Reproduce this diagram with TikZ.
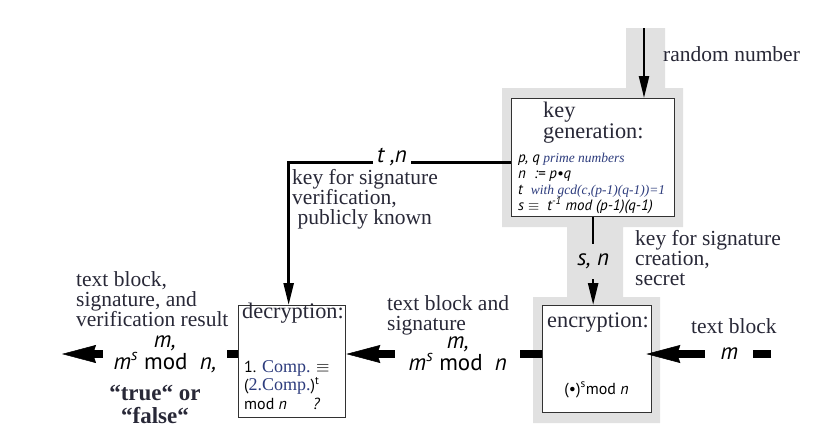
\documentclass[tikz,border=0pt]{standalone}
\usepackage{fontspec}
\setmainfont{Liberation Serif}
\setsansfont{PT Sans}
\usetikzlibrary{arrows.meta}

\definecolor{holder}{RGB}{225,225,225}
\definecolor{frame}{RGB}{50,50,50}
\definecolor{ink}{RGB}{40,40,55}
\definecolor{navy}{RGB}{45,60,125}

\begin{document}
\begin{tikzpicture}[x=1pt,y=-1pt,
    box/.style={draw=frame, line width=1.3pt, fill=white, inner sep=0pt, anchor=north west},
    thin link/.style={line width=2.4pt, -{Triangle[length=22pt,width=10pt]}},
    fat link/.style={line width=8pt, -{Stealth[length=34pt,width=18pt,inset=3pt,line width=0.5pt]}},
    label/.style={font=\fontsize{21.5}{20}\selectfont, text=ink, align=left, inner sep=0pt, anchor=base west},
    title/.style={font=\fontsize{22.3}{18}\selectfont, text=ink, align=left, inner sep=0pt, anchor=base west},
    sym/.style={font=\sffamily\itshape\fontsize{23}{22}\selectfont, align=center, inner sep=0pt},
    small/.style={font=\sffamily\fontsize{16}{18.5}\selectfont, align=left, inner sep=0pt}]
    \useasboundingbox (0,0) rectangle (829,447);

    % grey background of the key holder
    \fill[holder] (626,28) -- (665,28) -- (665,88) -- (683,88) -- (683,227) -- (623,227)
        -- (623,297) -- (660,297) -- (660,423) -- (533,423) -- (533,297) -- (567,297)
        -- (567,227) -- (502,227) -- (502,88) -- (626,88) -- cycle;

    \node[box, minimum width=163pt, minimum height=118pt] (keygen) at (511,98) {};
    \node[box, minimum width=107pt, minimum height=112pt] (decrypt) at (238,305) {};
    \node[box, minimum width=109pt, minimum height=107pt] (encrypt) at (542,305) {};

    \coordinate (seed) at (644,28);
    \coordinate (flow) at (0,354);
    \coordinate (outtip) at (62,354);
    \coordinate (intail) at (771,354);

    \draw[thin link] (seed) -- (seed |- keygen.north);
    \draw[thin link] ([yshift=-5pt]keygen.west) -| ([xshift=-3.5pt]decrypt.north);
    \draw[thin link] (keygen.south) -- node[sym, fill=holder, minimum height=35pt] (privkey) {s,\ n} (keygen.south |- encrypt.north);

    \draw[fat link] (encrypt.west |- flow) -- node[pos=0.43, sym, fill=white, minimum width=125pt] (signed) {m,\\m\textsuperscript{s} {\upshape mod}\ \ n} (decrypt.east |- flow);
    \draw[fat link] (decrypt.west |- flow) -- node[pos=0.415, sym, fill=white, minimum width=124pt] (verified) {m,\\m\textsuperscript{s} {\upshape mod}\ \ n,} (outtip |- flow);
    \draw[fat link, shorten >=-6pt] (intail) -- node[pos=0.35, sym, fill=white, minimum width=48pt] (plain) {m} (encrypt.east |- flow);

    \node[sym, fill=white, inner xsep=4pt, text depth=1pt] (pubkey) at (392,156) {t ,n};

    % texts (base = last line)
    \node[label] (seedlabel) at (663,61) {random number};
    \node[label] (publabel) at (292,224) {key for signature\\verification,\\\ publicly known};
    \node[label] (privlabel) at (635,285) {key for signature\\creation,\\secret};
    \node[label] (siglabel) at (387,330) {text block and\\signature};
    \node[label] (resultlabel) at (76,326) {text block,\\signature, and\\verification result};
    \node[label] (plainlabel) at (691,333) {text block};
    \node[font=\bfseries\fontsize{23}{23}\selectfont, text=ink, align=center, inner sep=0pt, anchor=base] (verdict) at (155,423) {“true“ or\\“false“};

    \node[title] (keytitle) at (543,138) {key\\generation:};
    \node[font=\fontsize{13.5}{16}\selectfont, align=left, inner sep=0pt, anchor=base west] (keyparams) at (518,210)
        {{\sffamily\itshape\fontsize{15}{16}\selectfont p, q} {\itshape\color{navy}prime numbers}\\
         {\sffamily\itshape\fontsize{15}{16}\selectfont n\ \ := p\textbullet q}\\
         {\sffamily\itshape\fontsize{15}{16}\selectfont t}\hspace{8pt}{\itshape\color{navy}with gcd(c,(p-1)(q-1))=1}\\
         {\sffamily\itshape\fontsize{15}{16}\selectfont s $\equiv$\ \ t\textsuperscript{-1} mod (p-1)(q-1)}};

    \node[title] (dectitle) at (242,318) {decryption:};
    \node[small, anchor=base west] (decformula) at (244,409)
        {1. {\rmfamily\color{navy}\fontsize{18}{18}\selectfont Comp.} $\equiv$\\
         ({\rmfamily\color{navy}\fontsize{18}{18}\selectfont 2.Comp.})\textsuperscript{t}\\
         mod \textit{n}\hspace{26pt}\textit{?}};

    \node[title] (enctitle) at (547,327) {encryption:};
    \node[small] (encformula) at (596.5,390) {(\textbullet)\textsuperscript{s}mod \textit{n}};
\end{tikzpicture}
\end{document}
